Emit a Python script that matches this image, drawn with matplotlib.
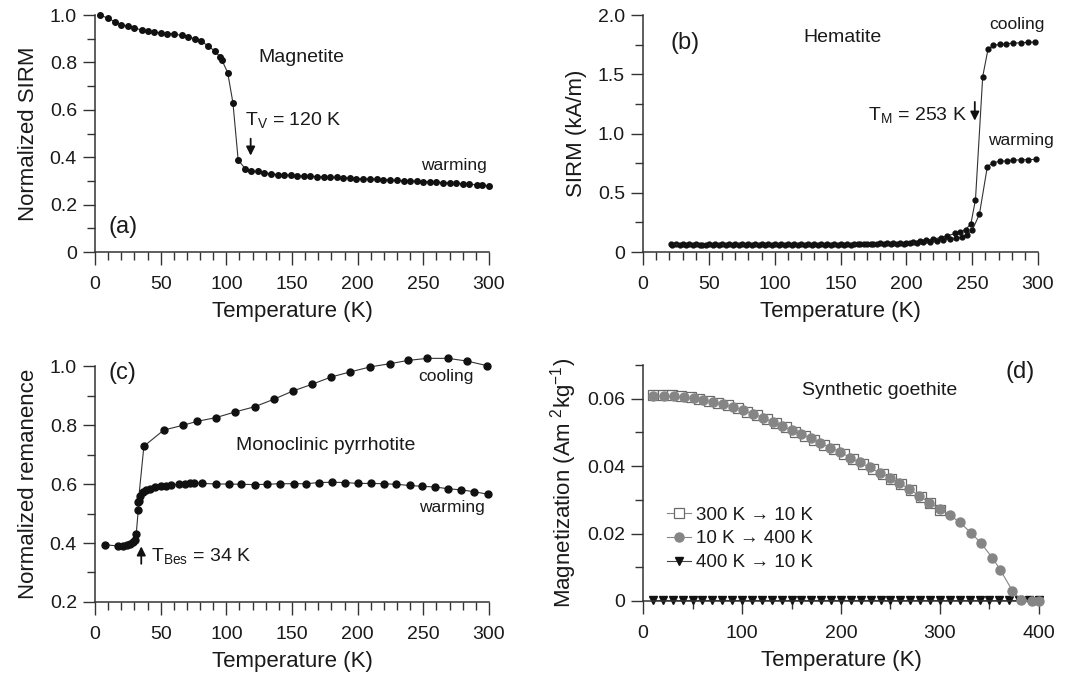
import matplotlib
matplotlib.use('Agg')
import matplotlib.pyplot as plt
from matplotlib.ticker import MultipleLocator, FuncFormatter

plt.rcParams['font.family'] = ['Liberation Sans', 'DejaVu Sans']
plt.rcParams['mathtext.default'] = 'regular'
plt.rcParams['text.color'] = '#1a1a1a'
plt.rcParams['axes.labelcolor'] = '#1a1a1a'

# (a) magnetite, warming
temp_a = [4, 10, 15, 20, 25, 30, 35.5, 40, 45, 50, 55, 60, 66, 71, 76, 81, 86, 91, 95, 96.5,
          101, 105, 109, 114.5, 119, 124, 129, 134, 139, 144, 149, 154, 159, 164, 169, 174,
          179, 184, 189, 194, 199, 204, 209.5, 214.5, 219.5, 224.5, 230, 235, 240, 245, 250,
          255, 260, 265, 270, 275, 280, 285, 290.5, 294.5, 300]
sirm_a = [1.0, 0.986, 0.972, 0.960, 0.952, 0.945, 0.937, 0.932, 0.928, 0.925, 0.922, 0.920,
          0.914, 0.908, 0.900, 0.889, 0.870, 0.849, 0.825, 0.811, 0.757, 0.630, 0.388, 0.351,
          0.341, 0.340, 0.334, 0.330, 0.327, 0.326, 0.324, 0.322, 0.321, 0.320, 0.318, 0.317,
          0.316, 0.315, 0.313, 0.312, 0.310, 0.309, 0.308, 0.307, 0.305, 0.304, 0.302, 0.301,
          0.300, 0.299, 0.297, 0.296, 0.295, 0.293, 0.292, 0.290, 0.288, 0.286, 0.284, 0.283,
          0.279]

# (b) hematite, cooling and warming
temp_b_cool = [21, 25, 30, 35, 40, 45, 50, 55, 60, 65, 70, 75, 80, 85, 90, 95, 100, 105, 110,
               115, 120, 125, 130, 135, 140, 145, 150, 155, 160, 165, 170, 175, 180, 185, 190,
               195, 200, 205, 210, 215, 220, 226, 231, 237, 241, 245, 249, 252.5, 258, 262,
               266, 271.5, 276, 281, 287, 292.5, 298]
sirm_b_cool = [0.066, 0.066, 0.064, 0.065, 0.064, 0.063, 0.064, 0.065, 0.065, 0.065, 0.065,
               0.064, 0.065, 0.064, 0.064, 0.064, 0.064, 0.065, 0.064, 0.064, 0.064, 0.065,
               0.064, 0.065, 0.065, 0.065, 0.064, 0.066, 0.067, 0.068, 0.070, 0.070, 0.072,
               0.073, 0.075, 0.078, 0.080, 0.086, 0.093, 0.100, 0.108, 0.122, 0.136, 0.157,
               0.170, 0.190, 0.237, 0.440, 1.480, 1.710, 1.745, 1.752, 1.758, 1.762, 1.766,
               1.770, 1.772]
temp_b_warm = [22, 28, 33, 38, 43, 48, 53, 58, 63, 68, 73, 78, 83, 88, 93, 98, 103, 108, 113,
               118, 123, 128, 133, 138, 143, 148, 153, 158, 163, 168, 173, 178, 183, 188, 193,
               198, 203, 208, 213, 218, 223, 228, 233, 238, 242, 246, 250, 255.5, 261.5,
               265.5, 271, 276.5, 281, 287, 292.5, 298.5]
sirm_b_warm = [0.062, 0.062, 0.061, 0.062, 0.061, 0.061, 0.062, 0.062, 0.062, 0.061, 0.062,
               0.062, 0.061, 0.062, 0.061, 0.062, 0.062, 0.061, 0.062, 0.062, 0.061, 0.062,
               0.062, 0.062, 0.061, 0.062, 0.062, 0.063, 0.064, 0.065, 0.066, 0.066, 0.067,
               0.068, 0.069, 0.070, 0.074, 0.078, 0.082, 0.088, 0.094, 0.100, 0.108, 0.115,
               0.124, 0.145, 0.183, 0.319, 0.719, 0.753, 0.765, 0.770, 0.775, 0.778, 0.780,
               0.782]

# (c) monoclinic pyrrhotite
temp_c_cool = [33, 37.2, 52.4, 66.9, 77.3, 92, 106.4, 121.6, 136, 150.5, 165.2, 179.9, 194.3,
               209.5, 224.7, 238.4, 253, 268.6, 283, 298.7]
rem_c_cool = [0.54, 0.728, 0.783, 0.799, 0.812, 0.825, 0.844, 0.862, 0.887, 0.915, 0.938,
              0.963, 0.980, 0.997, 1.008, 1.019, 1.026, 1.026, 1.017, 1.001]
temp_c_warm = [7.6, 17.5, 21.5, 24.1, 26.6, 28.9, 30.7, 31.4, 32.9, 33.4, 34.5, 36.2, 38.8,
               41.8, 45.4, 49.9, 54, 58, 63.8, 68.2, 72, 75, 81.8, 92.2, 102.1, 111.5, 121.6,
               131, 140.6, 151.3, 160.9, 170.5, 180.4, 190.3, 199.9, 210, 219.7, 229.3, 239.7,
               249.3, 258.7, 268.8, 279, 288.6, 299.5]
rem_c_warm = [0.394, 0.390, 0.390, 0.392, 0.395, 0.402, 0.410, 0.432, 0.511, 0.542, 0.559,
              0.573, 0.580, 0.584, 0.589, 0.592, 0.594, 0.597, 0.599, 0.600, 0.602, 0.605,
              0.602, 0.600, 0.600, 0.599, 0.598, 0.599, 0.601, 0.601, 0.601, 0.605, 0.606,
              0.605, 0.602, 0.602, 0.601, 0.599, 0.595, 0.592, 0.590, 0.584, 0.580, 0.574,
              0.565]

# (d) synthetic goethite
temp_d_sq = [10, 20, 29, 38, 48, 57, 67, 76, 86, 96, 105, 115, 125, 134, 144, 154, 164, 173,
             183, 193, 203, 212, 222, 232, 242, 251, 261, 271, 281, 290, 300]
mag_d_sq = [0.0610, 0.0611, 0.0611, 0.0608, 0.0605, 0.0600, 0.0594, 0.0588, 0.0580, 0.0571,
            0.0562, 0.0551, 0.0539, 0.0528, 0.0515, 0.0502, 0.0490, 0.0478, 0.0464, 0.0451,
            0.0437, 0.0422, 0.0407, 0.0392, 0.0376, 0.0362, 0.0346, 0.0328, 0.0309, 0.0290,
            0.0271]
temp_d_ci = [10, 21, 31, 41, 51, 61, 71, 81, 91, 101, 111, 121, 131, 140, 150, 160, 170, 179,
             189, 199, 209, 219, 229, 239, 249, 259, 269, 279, 289, 300, 310, 320, 331, 341,
             353, 361, 373, 382, 393, 400]
mag_d_ci = [0.0608, 0.0608, 0.0607, 0.0604, 0.0601, 0.0595, 0.0590, 0.0583, 0.0575, 0.0566,
            0.0555, 0.0544, 0.0531, 0.0519, 0.0507, 0.0494, 0.0482, 0.0468, 0.0455, 0.0443,
            0.0425, 0.0411, 0.0396, 0.0380, 0.0366, 0.0350, 0.0332, 0.0312, 0.0292, 0.0273,
            0.0255, 0.0233, 0.0203, 0.0173, 0.0128, 0.0092, 0.0031, 0.0002, 0.0, 0.0]
temp_d_tri = [10, 20, 30, 40, 50, 60, 70, 80, 90, 100, 110, 120, 130, 140, 150, 160, 170, 180,
              190, 200, 210, 220, 230, 240, 250, 260, 270, 280, 290, 300, 310, 320, 330, 340,
              350, 360, 370, 380, 390, 400]
mag_d_tri = [0.0003, 0.0003, 0.0003, 0.0003, 0.0003, 0.0003, 0.0003, 0.0003, 0.0003, 0.0003,
             0.0003, 0.0003, 0.0003, 0.0003, 0.0003, 0.0003, 0.0003, 0.0003, 0.0003, 0.0003,
             0.0003, 0.0003, 0.0003, 0.0003, 0.0003, 0.0003, 0.0003, 0.0003, 0.0003, 0.0003,
             0.0003, 0.0003, 0.0003, 0.0003, 0.0003, 0.0003, 0.0003, 0.0003, 0.0003, 0.0003]

fig = plt.figure(figsize=(10.86, 6.83), dpi=100)
ax_a = fig.add_axes([0.0875, 0.631, 0.3628, 0.347])
ax_b = fig.add_axes([0.5921, 0.631, 0.3637, 0.347])
ax_c = fig.add_axes([0.0875, 0.1186, 0.3628, 0.3455])
ax_d = fig.add_axes([0.5921, 0.1201, 0.3646, 0.3455])

INK = '#1a1a1a'


def style(ax, xmaj, xmin, ymaj, ymin):
    for s in ['top', 'right']:
        ax.spines[s].set_visible(False)
    for s in ['left', 'bottom']:
        ax.spines[s].set_linewidth(1.1)
        ax.spines[s].set_color('#333333')
    ax.xaxis.set_major_locator(MultipleLocator(xmaj))
    ax.xaxis.set_minor_locator(MultipleLocator(xmin))
    ax.yaxis.set_major_locator(MultipleLocator(ymaj))
    ax.yaxis.set_minor_locator(MultipleLocator(ymin))
    ax.tick_params(which='major', length=9, width=1.0, color='#333333', labelsize=14,
                   labelcolor=INK)
    ax.tick_params(which='minor', length=5.5, width=1.0, color='#333333')
    ax.tick_params(axis='x', which='major', pad=8)
    ax.tick_params(axis='y', which='major', pad=4)
    ax.set_xlabel('Temperature (K)', fontsize=16, labelpad=6)


def fmt_y(v, pos):
    if abs(v) < 1e-9:
        return '0'
    return ('%.2f' % v) if abs(v) < 0.1 else ('%.1f' % v)


line_kw = dict(color='#333333', lw=0.8, marker='o', mfc='#111111', mec='#111111',
               clip_on=False)

# ---- (a)
ax_a.plot(temp_a, sirm_a, ms=4, **line_kw)
ax_a.set_xlim(0, 300)
ax_a.set_ylim(0, 1.0)
style(ax_a, 50, 10, 0.2, 0.1)
ax_a.yaxis.set_major_formatter(FuncFormatter(fmt_y))
ax_a.set_ylabel('Normalized SIRM', fontsize=16, labelpad=8)
ax_a.text(124, 0.82, 'Magnetite', fontsize=14, va='center')
ax_a.text(114, 0.557, 'T$_V$ = 120 K', fontsize=14, va='center')
ax_a.annotate('', xy=(118.5, 0.395), xytext=(118.5, 0.49),
              arrowprops=dict(arrowstyle='-|>', color='#111111', lw=1.3, mutation_scale=13))
ax_a.text(298, 0.367, 'warming', fontsize=12.5, ha='right', va='center')
ax_a.text(10, 0.105, '(a)', fontsize=17, va='center')

# ---- (b)
ax_b.plot(temp_b_cool, sirm_b_cool, ms=3.5, **line_kw)
ax_b.plot(temp_b_warm, sirm_b_warm, ms=3.5, **line_kw)
ax_b.set_xlim(0, 300)
ax_b.set_ylim(0, 2.0)
style(ax_b, 50, 10, 0.5, 0.25)
ax_b.yaxis.set_major_formatter(FuncFormatter(fmt_y))
ax_b.set_ylabel('SIRM (kA/m)', fontsize=16, labelpad=8)
ax_b.text(21, 1.76, '(b)', fontsize=17, va='center')
ax_b.text(122, 1.81, 'Hematite', fontsize=14, va='center')
ax_b.text(305, 1.92, 'cooling', fontsize=12.5, ha='right', va='center', clip_on=False)
ax_b.text(312, 0.945, 'warming', fontsize=12.5, ha='right', va='center', clip_on=False)
ax_b.text(171, 1.157, 'T$_M$ = 253 K', fontsize=14, va='center')
ax_b.annotate('', xy=(252, 1.085), xytext=(252, 1.29),
              arrowprops=dict(arrowstyle='-|>', color='#111111', lw=1.3, mutation_scale=13))

# ---- (c)
ax_c.plot(temp_c_cool, rem_c_cool, ms=5, **line_kw)
ax_c.plot(temp_c_warm, rem_c_warm, ms=5, **line_kw)
ax_c.set_xlim(0, 300)
ax_c.set_ylim(0.2, 1.0)
style(ax_c, 50, 10, 0.2, 0.1)
ax_c.yaxis.set_major_formatter(FuncFormatter(fmt_y))
ax_c.set_ylabel('Normalized remanence', fontsize=16, labelpad=8)
ax_c.text(10, 0.977, '(c)', fontsize=17, va='center')
ax_c.text(288, 0.966, 'cooling', fontsize=12.5, ha='right', va='center')
ax_c.text(107, 0.732, 'Monoclinic pyrrhotite', fontsize=14, va='center')
ax_c.text(297, 0.52, 'warming', fontsize=12.5, ha='right', va='center')
ax_c.text(43, 0.356, 'T$_{Bes}$ = 34 K', fontsize=14, va='center')
ax_c.annotate('', xy=(35.2, 0.398), xytext=(35.2, 0.32),
              arrowprops=dict(arrowstyle='-|>', color='#111111', lw=1.3, mutation_scale=13))

# ---- (d)
grey = '#858585'
ax_d.plot(temp_d_tri, mag_d_tri, color='#444444', lw=0.8, marker='v', ms=5.5,
          mfc='#111111', mec='#111111', clip_on=False, label='400 K \u2192 10 K', zorder=2)
ax_d.plot(temp_d_sq, mag_d_sq, color=grey, lw=0.8, marker='s', ms=6.5, mfc='white',
          mec='#6a6a6a', mew=0.9, clip_on=False, label='300 K \u2192 10 K', zorder=3)
ax_d.plot(temp_d_ci, mag_d_ci, color=grey, lw=0.8, marker='o', ms=6.5, mfc=grey, mec=grey,
          clip_on=False, label='10 K \u2192 400 K', zorder=4)
ax_d.set_xlim(0, 400)
ax_d.set_ylim(0, 0.07)
style(ax_d, 100, 50, 0.02, 0.01)
ax_d.yaxis.set_major_formatter(FuncFormatter(fmt_y))
ax_d.set_ylabel('Magnetization (Am$^{\\ 2}$kg$^{-1}$)', fontsize=16, labelpad=6)
ax_d.text(161, 0.0623, 'Synthetic goethite', fontsize=14, va='center')
ax_d.text(396, 0.0679, '(d)', fontsize=17, ha='right', va='center')
h, l = ax_d.get_legend_handles_labels()
ax_d.legend([h[1], h[2], h[0]], [l[1], l[2], l[0]], loc='upper left',
            bbox_to_anchor=(0.06, 0.40), frameon=False, fontsize=13.5, handlelength=1.3,
            handletextpad=0.25, labelspacing=0.35, borderpad=0, borderaxespad=0)

fig.savefig('out.png', dpi=100)
